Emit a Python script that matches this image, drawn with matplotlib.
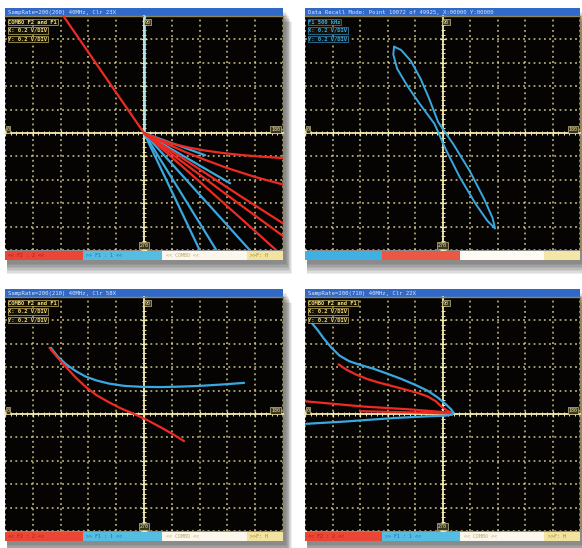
import matplotlib
matplotlib.use('Agg')
import matplotlib.pyplot as plt
from matplotlib.patches import Rectangle
from matplotlib.ticker import MultipleLocator

# ---------------- data (screen divisions, -5..5 on both axes) ----------------
# Panel 1 (top-left): fan of traces from the centre
p1_red_up_x = [-2.9, 0.0]
p1_red_up_y = [5.0, 0.0]
p1_blue_up_x = [0.05, 0.05]
p1_blue_up_y = [5.0, 0.0]
p1_red1_x = [0.0, 0.5, 1.0, 1.6, 2.2, 2.8, 3.5, 4.2, 5.0]
p1_red1_y = [0.0, -0.25, -0.45, -0.62, -0.75, -0.85, -0.94, -1.01, -1.07]
p1_red2_x = [0.0, 0.8, 1.5, 2.2, 3.0, 4.0, 5.0]
p1_red2_y = [0.0, -0.45, -0.82, -1.15, -1.5, -1.88, -2.2]
p1_red3_x = [0.0, 1.0, 2.0, 3.5, 5.0]
p1_red3_y = [0.0, -0.78, -1.55, -2.72, -3.86]
p1_red4_x = [0.0, 1.0, 2.0, 3.5, 5.0]
p1_red4_y = [0.0, -0.9, -1.78, -3.1, -4.4]
p1_red5_x = [0.0, 1.0, 2.0, 3.4, 4.75]
p1_red5_y = [0.0, -1.04, -2.08, -3.56, -5.0]
p1_blue1_x = [0.0, 2.2]
p1_blue1_y = [0.0, -0.95]
p1_blue2_x = [0.0, 3.1]
p1_blue2_y = [0.0, -2.15]
p1_blue3_x = [0.0, 2.0]
p1_blue3_y = [0.0, -5.0]
p1_blue4_x = [0.0, 2.6]
p1_blue4_y = [0.0, -5.0]
p1_blue5_x = [0.0, 3.8]
p1_blue5_y = [0.0, -5.0]

# Panel 2 (top-right): thin elongated loop
p2_loop_x = [-1.76, -1.51, -1.15, -0.79, -0.49, -0.16, 0.40, 0.99, 1.51, 1.82,
             1.91, 1.63, 1.20, 0.62, 0.11, -0.29, -0.83, -1.26, -1.65, -1.79,
             -1.76]
p2_loop_y = [3.69, 3.55, 3.08, 2.30, 1.48, 0.47, -0.49, -1.62, -2.81, -3.63,
             -4.08, -3.75, -3.02, -1.87, -0.68, 0.39, 1.25, 1.98, 2.75, 3.36,
             3.69]

# Panel 3 (bottom-left)
p3_blue_x = [-3.35, -3.1, -2.8, -2.45, -2.1, -1.7, -1.26, -0.7, -0.07, 0.6,
             1.3, 1.98, 2.8, 3.6]
p3_blue_y = [2.83, 2.45, 2.12, 1.83, 1.6, 1.43, 1.3, 1.2, 1.16, 1.15,
             1.17, 1.2, 1.26, 1.33]
p3_red_x = [-3.4, -3.1, -2.8, -2.45, -2.1, -1.7, -1.26, -0.85, -0.43, 0.1,
            0.65, 1.05, 1.44]
p3_red_y = [2.83, 2.4, 2.0, 1.55, 1.16, 0.8, 0.5, 0.25, 0.04, -0.25,
            -0.6, -0.87, -1.16]

# Panel 4 (bottom-right)
p4_blue_x = [-4.78, -4.55, -4.3, -4.05, -3.75, -3.4, -3.0, -2.5, -2.0, -1.5,
             -1.0, -0.55, -0.18, 0.12, 0.32, 0.4, 0.35, 0.1, -0.54, -1.73,
             -2.7, -3.52, -4.96]
p4_blue_y = [3.93, 3.6, 3.2, 2.85, 2.5, 2.26, 2.1, 1.93, 1.72, 1.5,
             1.25, 1.0, 0.71, 0.42, 0.19, 0.05, -0.03, -0.07, -0.1, -0.17,
             -0.25, -0.32, -0.42]
p4_red1_x = [-3.78, -3.5, -3.17, -2.75, -2.34, -1.85, -1.37, -0.9, -0.54,
             -0.25, -0.04, 0.18, 0.32]
p4_red1_y = [2.12, 1.9, 1.7, 1.5, 1.35, 1.2, 1.05, 0.9, 0.75,
             0.55, 0.32, 0.14, 0.06]
p4_red2_x = [-4.96, -2.9, -1.1, 0.25, 0.3, -1.2, -3.0]
p4_red2_y = [0.54, 0.32, 0.19, 0.06, 0.02, 0.07, 0.12]

titles = ["SampRate=200(200) 40MHz, Clr 23X",
          "Data Recall Mode: Point 10072 of 49925, X:00000 Y:00000",
          "SampRate=200(210) 40MHz, Clr 58X",
          "SampRate=200(710) 40MHz, Clr 22X"]
info_combo = ["COMBO F2 and F1", "X: 0.2 V/DIV", "Y: 0.2 V/DIV"]
info_recall = ["F1 500 kHz", "X: 0.2 V/DIV", "Y: 0.2 V/DIV"]
bar_texts = ["<< F2 : 2 <<", ">> F1 : 1 <<", "<< COMBO <<", ">>F: H"]

# ---------------- styling ----------------
W, H = 582, 548
RED = '#ee2b22'
BLUE = '#3aa8e0'
GRID = '#e3d893'
AXC = '#f1e8b0'
MONO = 'DejaVu Sans Mono'

fig = plt.figure(figsize=(W / 100, H / 100), dpi=100)
fig.patch.set_facecolor('white')


def box(x0, y0, x1, y1):
    return [x0 / W, 1 - y1 / H, (x1 - x0) / W, (y1 - y0) / H]


def shadow(x0, y0, x1, y1):
    for k in range(1, 9):
        r = Rectangle((x0 / W + 0.004, 1 - (y1 + 2 + 1.5 * k) / H),
                      (x1 - x0 + k * 0.8) / W, (y1 - y0) / H,
                      transform=fig.transFigure, facecolor='black',
                      alpha=0.07, edgecolor='none', zorder=-5)
        fig.add_artist(r)


def scope(x0, x1, ytop, title, info, info_color, bar_colors, btexts, traces):
    y_plot0 = ytop + 8
    y_plot1 = y_plot0 + 234
    y_bar1 = y_plot1 + 10
    shadow(x0, ytop, x1, y_bar1)

    # title bar
    tax = fig.add_axes(box(x0, ytop, x1, y_plot0))
    tax.set_facecolor('#3069c8')
    tax.set_xticks([]); tax.set_yticks([])
    for s in tax.spines.values():
        s.set_visible(False)
    tax.text(0.012, 0.45, title, color='#dfe8fb', fontsize=4.1,
             family=MONO, va='center', ha='left', transform=tax.transAxes)

    # plot area
    ax = fig.add_axes(box(x0, y_plot0, x1, y_plot1))
    ax.set_facecolor('#050403')
    ax.set_xlim(-5, 5)
    ax.set_ylim(-5, 5)
    ax.xaxis.set_major_locator(MultipleLocator(1))
    ax.yaxis.set_major_locator(MultipleLocator(1))
    ax.xaxis.set_minor_locator(MultipleLocator(0.2))
    ax.yaxis.set_minor_locator(MultipleLocator(0.2))
    ax.grid(True, which='major', color=GRID, ls=(0, (1.2, 2.2)), lw=1.1,
            alpha=0.9)
    ax.spines['left'].set_position(('data', 0))
    ax.spines['bottom'].set_position(('data', 0))
    for s in ('left', 'bottom'):
        ax.spines[s].set_color(AXC)
        ax.spines[s].set_linewidth(1.3)
    for s in ('top', 'right'):
        ax.spines[s].set_color('#8f875c')
        ax.spines[s].set_linewidth(1.0)
    ax.tick_params(which='major', direction='inout', length=4, width=0.9,
                   colors=AXC, labelleft=False, labelbottom=False)
    ax.tick_params(which='minor', direction='inout', length=2.4, width=0.7,
                   colors=AXC)
    ax.set_axisbelow(True)

    for xs, ys, c, lw in traces:
        ax.plot(xs, ys, color=c, lw=lw, solid_capstyle='round',
                solid_joinstyle='round', zorder=4)

    lab = dict(fontsize=3.6, family=MONO, color='#f3e7a0',
               bbox=dict(boxstyle='square,pad=0.15', fc='#3a3520',
                         ec='#f3e7a0', lw=0.4), zorder=5)
    ax.text(0.02, 4.85, '90', ha='left', va='top', **lab)
    ax.text(0.0, -4.92, '270', ha='center', va='bottom', **lab)
    ax.text(4.9, 0.05, '180', ha='right', va='bottom', **lab)
    ax.text(-4.95, 0.05, '0', ha='left', va='bottom', **lab)

    for i, line in enumerate(info):
        ax.text(0.012, 0.985 - i * 0.036, line, transform=ax.transAxes,
                fontsize=4.0, family=MONO, fontweight='bold', color=info_color,
                ha='left', va='top', zorder=6,
                bbox=dict(boxstyle='square,pad=0.12', fc='#141208',
                          ec=info_color, lw=0.4))

    # bottom status bar
    bax = fig.add_axes(box(x0, y_plot1 + 1, x1, y_bar1))
    bax.set_xlim(0, 4)
    bax.set_ylim(0, 1)
    bax.set_xticks([]); bax.set_yticks([])
    for s in bax.spines.values():
        s.set_visible(False)
    widths = [1.12, 1.14, 1.22, 0.52]
    pos = 0
    tcols = ['#a81e1a', '#2468b0', '#b9ab70', '#a68a2c']
    for w, c, t, tc in zip(widths, bar_colors, btexts, tcols):
        bax.add_patch(Rectangle((pos, 0), w * 4 / sum(widths), 1,
                                facecolor=c, edgecolor='none'))
        if t:
            bax.text(pos + 0.05, 0.5, t, color=tc, fontsize=3.6, family=MONO,
                     va='center', ha='left')
        pos += w * 4 / sum(widths)
    return ax


bar_std = ['#ea4535', '#55bde2', '#fbf7ec', '#f2e3a0']
bar_rec = ['#3fb0e2', '#ea5843', '#fdfbf4', '#f4e6a5']
LW = 1.6

scope(5, 283, 8, titles[0], info_combo, '#f2dc78', bar_std, bar_texts, [
    (p1_blue_up_x, p1_blue_up_y, '#a8e4f4', 1.2),
    (p1_red_up_x, p1_red_up_y, RED, LW),
    (p1_blue1_x, p1_blue1_y, BLUE, LW), (p1_blue2_x, p1_blue2_y, BLUE, LW),
    (p1_blue3_x, p1_blue3_y, BLUE, LW), (p1_blue4_x, p1_blue4_y, BLUE, LW),
    (p1_blue5_x, p1_blue5_y, BLUE, LW),
    (p1_red1_x, p1_red1_y, RED, LW), (p1_red2_x, p1_red2_y, RED, LW),
    (p1_red3_x, p1_red3_y, RED, LW), (p1_red4_x, p1_red4_y, RED, LW),
    (p1_red5_x, p1_red5_y, RED, LW),
])

scope(305, 580, 8, titles[1], info_recall, '#3aa8e8', bar_rec,
      ['', '', '', ''], [(p2_loop_x, p2_loop_y, BLUE, 1.4)])

scope(5, 283, 289, titles[2], info_combo, '#f2dc78', bar_std, bar_texts, [
    (p3_blue_x, p3_blue_y, BLUE, LW),
    (p3_red_x, p3_red_y, RED, LW),
])

scope(305, 580, 289, titles[3], info_combo, '#f2dc78', bar_std, bar_texts, [
    (p4_red2_x, p4_red2_y, RED, LW),
    (p4_red1_x, p4_red1_y, RED, LW),
    (p4_blue_x, p4_blue_y, BLUE, LW),
])

fig.savefig('out.png', dpi=100, facecolor='white')
